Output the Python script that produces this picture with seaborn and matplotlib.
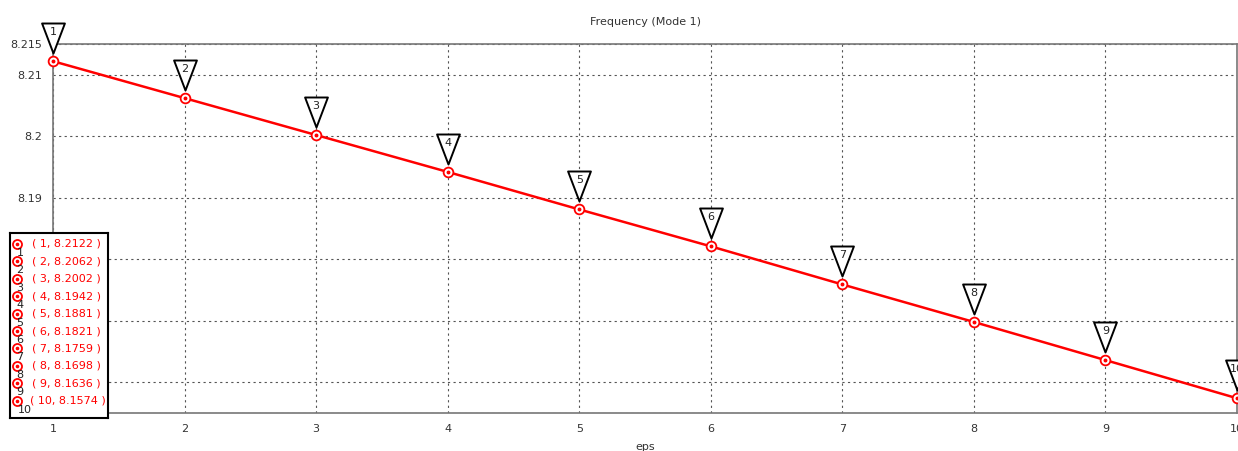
import numpy as np
import pandas as pd
import matplotlib
matplotlib.use("Agg")
import matplotlib.pyplot as plt
from matplotlib.path import Path
import matplotlib.transforms as mtransforms
import seaborn as sns

# Mode 1 frequency versus eps
eps = [1, 2, 3, 4, 5, 6, 7, 8, 9, 10]
freq = [8.2122, 8.2062, 8.2002, 8.1942, 8.1881, 8.1821, 8.1759, 8.1698, 8.1636, 8.1574]
y_ticks = [8.155, 8.16, 8.17, 8.18, 8.19, 8.2, 8.21, 8.215]
x_ticks = [1, 2, 3, 4, 5, 6, 7, 8, 9, 10]
title = "Frequency (Mode 1)"
x_label = "eps"

df = pd.DataFrame({"eps": eps, "freq": freq})

sns.set_theme(style="white")
plt.rcParams["font.family"] = ["DejaVu Sans"]

W, H = 1238, 451
PT = 0.72  # points per pixel at 100 dpi
fig = plt.figure(figsize=(W / 100, H / 100), dpi=100)
ax = fig.add_axes([53 / W, 38 / H, 1184 / W, 369 / H])

sns.lineplot(data=df, x="eps", y="freq", ax=ax, color="red", lw=1.8,
             marker="o", markersize=7, markerfacecolor="white",
             markeredgecolor="red", markeredgewidth=1.3, zorder=4, clip_on=False)
ax.plot(df["eps"], df["freq"], ls="none", marker="o", markersize=1.8,
        color="red", zorder=5, clip_on=False)

ax.set_xlim(1, 10)
ax.set_ylim(8.155, 8.215)
ax.set_xticks(x_ticks)
ax.set_yticks(y_ticks)
ax.set_yticklabels([f"{v:g}" for v in y_ticks])
ax.set_xticklabels([str(v) for v in x_ticks])
ax.tick_params(axis="both", labelsize=8, colors="#333333", length=4, width=0.8,
               direction="inout", pad=6)
ax.tick_params(axis="y", direction="out", length=5, pad=3)
ax.grid(True, ls=(0, (2, 3)), color="#555555", lw=0.8)
for s in ["left", "top", "right", "bottom"]:
    ax.spines[s].set_color("#777777")
    ax.spines[s].set_linewidth(1.2)
ax.set_xlabel(x_label, fontsize=8, color="#333333", labelpad=6)
ax.set_ylabel("")
ax.set_title(title, fontsize=8, color="#333333", pad=14)

# Downward triangle flags above each point
tri = Path([(-0.38, 0.5), (0.38, 0.5), (0.0, -0.5), (-0.38, 0.5)],
           [Path.MOVETO, Path.LINETO, Path.LINETO, Path.CLOSEPOLY])
flag_tr = mtransforms.offset_copy(ax.transData, fig=fig, x=0, y=23 * PT, units="points")
ax.plot(df["eps"], df["freq"], ls="none", marker=tri, markersize=30 * PT,
        markerfacecolor="white", markeredgecolor="black", markeredgewidth=1.4,
        transform=flag_tr, clip_on=False, zorder=6)
text_tr = mtransforms.offset_copy(ax.transData, fig=fig, x=0, y=29 * PT, units="points")
for xv, yv in zip(eps, freq):
    ax.text(xv, yv, str(xv), transform=text_tr, ha="center", va="center",
            fontsize=8, color="#222222", zorder=7, clip_on=False)

# Value table box in the lower left
lax = fig.add_axes([10 / W, (H - 418) / H, 98 / W, 185 / H])
lax.set_xlim(0, 98)
lax.set_ylim(185, 0)
lax.set_xticks([])
lax.set_yticks([])
lax.set_facecolor("white")
for s in lax.spines.values():
    s.set_color("black")
    s.set_linewidth(1.5)
lax.set_zorder(10)
row_y = [11 + 17.4 * i for i in range(len(eps))]
lax.plot([7] * len(eps), row_y, ls="none", marker="o", markersize=6.5,
         markerfacecolor="white", markeredgecolor="red", markeredgewidth=1.3)
lax.plot([7] * len(eps), row_y, ls="none", marker="o", markersize=1.6, color="red")
for xv, yv, ry in zip(eps, freq, row_y):
    lax.text(10 if xv < 10 else 15, ry + 9, str(xv), ha="center", va="center",
             fontsize=8, color="#222222")
    lax.text(22 if xv < 10 else 20, ry, f"( {xv}, {yv:.4f} )", ha="left", va="center",
             fontsize=8, color="red")

fig.savefig("out.png", dpi=100)
